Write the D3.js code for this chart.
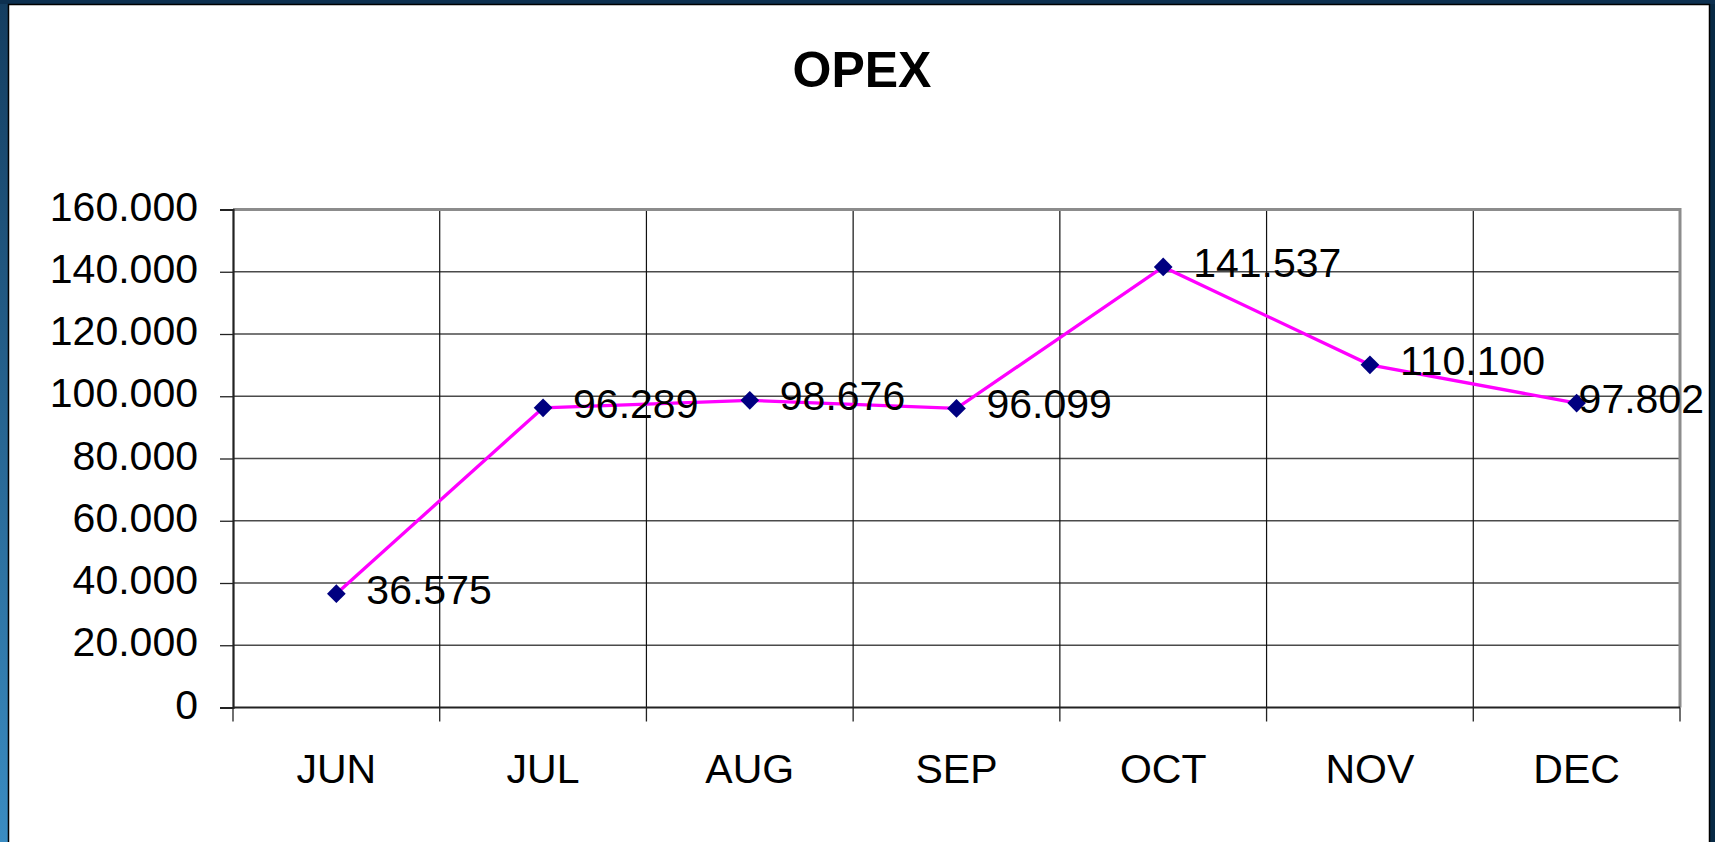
<!DOCTYPE html>
<html>
<head>
<meta charset="utf-8">
<script src="https://cdn.jsdelivr.net/npm/d3@7"></script>
<style>
html,body{margin:0;padding:0;overflow:hidden;}
svg{display:block;}
text{font-family:"Liberation Sans",Arial,sans-serif;}
</style>
</head>
<body>
<svg id="c" width="1715" height="842"></svg>
<script>
const title = "OPEX";
const months = ["JUN","JUL","AUG","SEP","OCT","NOV","DEC"];
const values = [36575, 96289, 98676, 96099, 141537, 110100, 97802];
const valueLabels = ["36.575","96.289","98.676","96.099","141.537","110.100","97.802"];
const yTicks = [0,20000,40000,60000,80000,100000,120000,140000,160000];
const yTickLabels = ["0","20.000","40.000","60.000","80.000","100.000","120.000","140.000","160.000"];

const svg = d3.select("#c");
const defs = svg.append("defs");
const g1 = defs.append("linearGradient").attr("id","bg").attr("x1","0").attr("y1","0").attr("x2","0").attr("y2","1");
g1.append("stop").attr("offset","0").attr("stop-color","#143d60");
g1.append("stop").attr("offset","1").attr("stop-color","#3a8cc2");
svg.append("rect").attr("x",0).attr("y",0).attr("width",1715).attr("height",842).attr("fill","url(#bg)");
svg.append("rect").attr("x",1700).attr("y",0).attr("width",15).attr("height",842).attr("fill","#082a45");
svg.append("rect").attr("x",0).attr("y",0).attr("width",1715).attr("height",4).attr("fill","#0d3050");
svg.append("rect").attr("x",8.5).attr("y",4.5).attr("width",1701).attr("height",845).attr("fill","#ffffff").attr("stroke","#000").attr("stroke-width",1.5);

const L = 233, R = 1680, T = 209.5, B = 707.5;
const FS = 41;
const x = d3.scaleBand().domain(months).range([L,R]).padding(0);
const y = d3.scaleLinear().domain([0,160000]).range([B,T]);

// horizontal gridlines
svg.append("g").selectAll("line").data(yTicks.slice(1,-1)).join("line")
  .attr("x1",L).attr("x2",R).attr("y1",d=>y(d)).attr("y2",d=>y(d))
  .attr("stroke","#4a4a4a").attr("stroke-width",1.3);
// vertical gridlines
svg.append("g").selectAll("line").data(months.slice(1)).join("line")
  .attr("x1",d=>x(d)).attr("x2",d=>x(d)).attr("y1",T).attr("y2",B)
  .attr("stroke","#111").attr("stroke-width",1.2);

// plot border top/right gray
svg.append("path").attr("d",`M${L},${T}H${R}V${B}`).attr("fill","none").attr("stroke","#8c8c8c").attr("stroke-width",3);

// y axis
const yAxis = d3.axisLeft(y).tickValues(yTicks).tickFormat((d,i)=>yTickLabels[i]).tickSize(13).tickPadding(22);
const ya = svg.append("g").attr("transform",`translate(${L},0)`).call(yAxis);
ya.select(".domain").attr("stroke","#222").attr("stroke-width",2.2);
ya.selectAll(".tick line").attr("stroke","#222").attr("stroke-width",1.3);
ya.selectAll(".tick text").attr("font-size",FS).attr("fill","#000").attr("dy","0.26em")
  .attr("font-family","'Liberation Sans',Arial,sans-serif");

// x axis
const xBound = months.map(m=>x(m)).concat([R]);
const xa = svg.append("g");
xa.append("line").attr("x1",L).attr("x2",R).attr("y1",B).attr("y2",B).attr("stroke","#222").attr("stroke-width",2.2);
xa.selectAll("line.tk").data(xBound).join("line").attr("class","tk")
  .attr("x1",d=>d).attr("x2",d=>d).attr("y1",B).attr("y2",B+14).attr("stroke","#222").attr("stroke-width",1.3);
xa.selectAll("text").data(months).join("text")
  .attr("x",d=>x(d)+x.bandwidth()/2).attr("y",782.5).attr("text-anchor","middle")
  .attr("font-size",FS).attr("fill","#000").text(d=>d);

// line
const line = d3.line().x((d,i)=>x(months[i])+x.bandwidth()/2).y(d=>y(d));
svg.append("path").datum(values).attr("d",line).attr("fill","none").attr("stroke","#ff00ff").attr("stroke-width",3.3);

// markers
svg.append("g").selectAll("path").data(values).join("path")
  .attr("transform",(d,i)=>`translate(${x(months[i])+x.bandwidth()/2},${y(d)}) rotate(45)`)
  .attr("d",d3.symbol().type(d3.symbolSquare).size(175))
  .attr("fill","#000080");

// value labels (shifted left if they would run past the panel edge)
const maxRight = 1704;
svg.append("g").selectAll("text").data(values).join("text")
  .attr("y",d=>y(d)+10)
  .attr("font-size",FS).attr("fill","#000").text((d,i)=>valueLabels[i])
  .each(function(d,i){
    const cx = x(months[i])+x.bandwidth()/2;
    let tx = cx + 30;
    const w = this.getComputedTextLength();
    if (tx + w > maxRight) tx = maxRight - w;
    d3.select(this).attr("x", tx);
  });

// title
svg.append("text").attr("x",862).attr("y",87).attr("text-anchor","middle")
  .attr("font-size",50).attr("font-weight","bold").attr("fill","#000").text(title);
</script>
</body>
</html>
